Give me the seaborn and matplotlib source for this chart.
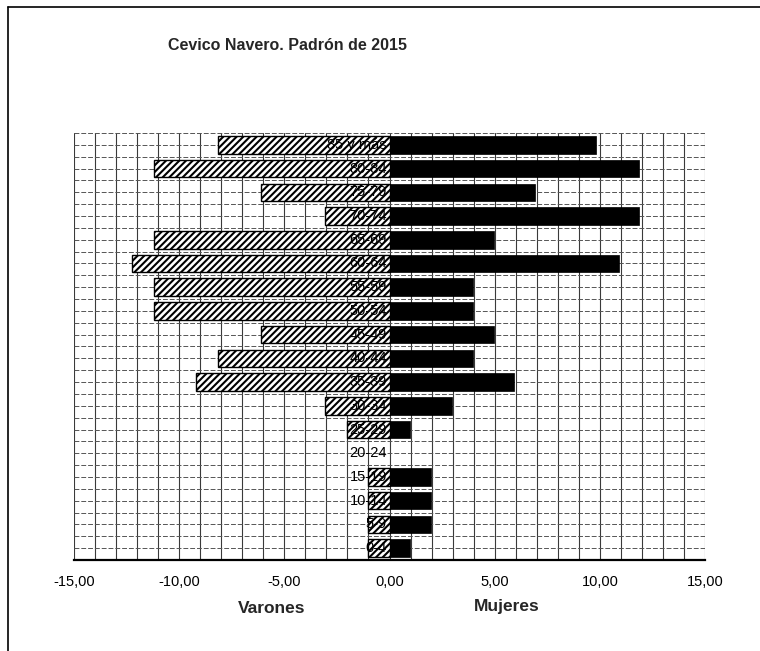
import matplotlib
matplotlib.use('Agg')
import matplotlib.pyplot as plt
from matplotlib.lines import Line2D
from matplotlib.ticker import FuncFormatter, MultipleLocator
import seaborn as sns
import numpy as np
import pandas as pd

ages = ['85 y más', '80-84', '75-79', '70-74', '65-69', '60-64', '55-59',
        '50-54', '45-49', '40-44', '35-39', '30-34', '25-29', '20-24',
        '15-19', '10-14', '5-9', '0-4']
varones = [8.16, 11.22, 6.12, 3.06, 11.22, 12.24, 11.22, 11.22, 6.12,
           8.16, 9.18, 3.06, 2.04, 0.0, 1.02, 1.02, 1.02, 1.02]
mujeres = [9.80, 11.88, 6.93, 11.88, 4.95, 10.89, 3.96, 3.96, 4.95,
           3.96, 5.94, 2.97, 0.99, 0.0, 1.98, 1.98, 1.98, 0.99]

df = pd.DataFrame({'edad': ages,
                   'varones': -np.array(varones),
                   'mujeres': np.array(mujeres)})

sns.set_style('white')
plt.rcParams['font.family'] = ['Liberation Sans', 'DejaVu Sans']
plt.rcParams['hatch.linewidth'] = 1.5

fig = plt.figure(figsize=(7.6, 6.51), dpi=100)
ax = fig.add_axes([0.0974, 0.1398, 0.8302, 0.6559])

sns.barplot(data=df, x='varones', y='edad', order=ages, color='white',
            edgecolor='black', linewidth=1.0, hatch='/////', width=0.74,
            orient='h', ax=ax, zorder=3)
sns.barplot(data=df, x='mujeres', y='edad', order=ages, color='black',
            edgecolor='black', linewidth=0.5, width=0.74,
            orient='h', ax=ax, zorder=3)
for p in ax.patches:
    if p.get_width() == 0:
        p.set_linewidth(0)

# age labels sit just left of zero, over the hatched bars
for i, lab in enumerate(ages):
    ax.text(-0.12, i, lab, ha='right', va='center', fontsize=10.5,
            color='black', zorder=5)

ax.set_xlim(-15, 15)
ax.set_ylim(len(ages) - 0.5, -0.5)
ax.xaxis.set_major_locator(MultipleLocator(5))
ax.xaxis.set_minor_locator(MultipleLocator(1))
ax.xaxis.set_major_formatter(FuncFormatter(lambda v, _: f'{v:.2f}'.replace('.', ',')))
ax.set_yticks([])
ax.set_yticks(np.arange(-0.5, len(ages), 0.5), minor=True)
ax.tick_params(axis='y', which='both', length=0, labelleft=False)
ax.tick_params(axis='x', which='major', length=5, width=1, direction='out',
               labelsize=10.5, pad=6, colors='black')
ax.tick_params(axis='x', which='minor', length=0)

ax.grid(False)
ax.grid(axis='x', which='both', color='#3a3a3a', linewidth=0.8, zorder=0)
ax.grid(axis='y', which='minor', color='#555555', linewidth=0.7,
        linestyle=(0, (5, 2)), zorder=0)
ax.set_axisbelow(True)

for s in ['left', 'right', 'top']:
    ax.spines[s].set_visible(False)
ax.spines['bottom'].set_color('black')
ax.spines['bottom'].set_linewidth(1.6)
ax.set_xlabel('')
ax.set_ylabel('')

fig.text(0.378, 0.93, 'Cevico Navero. Padrón de 2015', ha='center', va='center',
         fontsize=11.5, fontweight='bold')
fig.text(0.358, 0.066, 'Varones', ha='center', va='center',
         fontsize=12.5, fontweight='bold')
fig.text(0.667, 0.069, 'Mujeres', ha='center', va='center',
         fontsize=12.5, fontweight='bold')

# page frame from the scanned sheet
fig.add_artist(Line2D([0.011, 0.011], [0.0, 0.99], transform=fig.transFigure,
                      color='black', linewidth=1.2))
fig.add_artist(Line2D([0.011, 1.0], [0.99, 0.99], transform=fig.transFigure,
                      color='black', linewidth=1.2))

fig.savefig('out.png', dpi=100)
